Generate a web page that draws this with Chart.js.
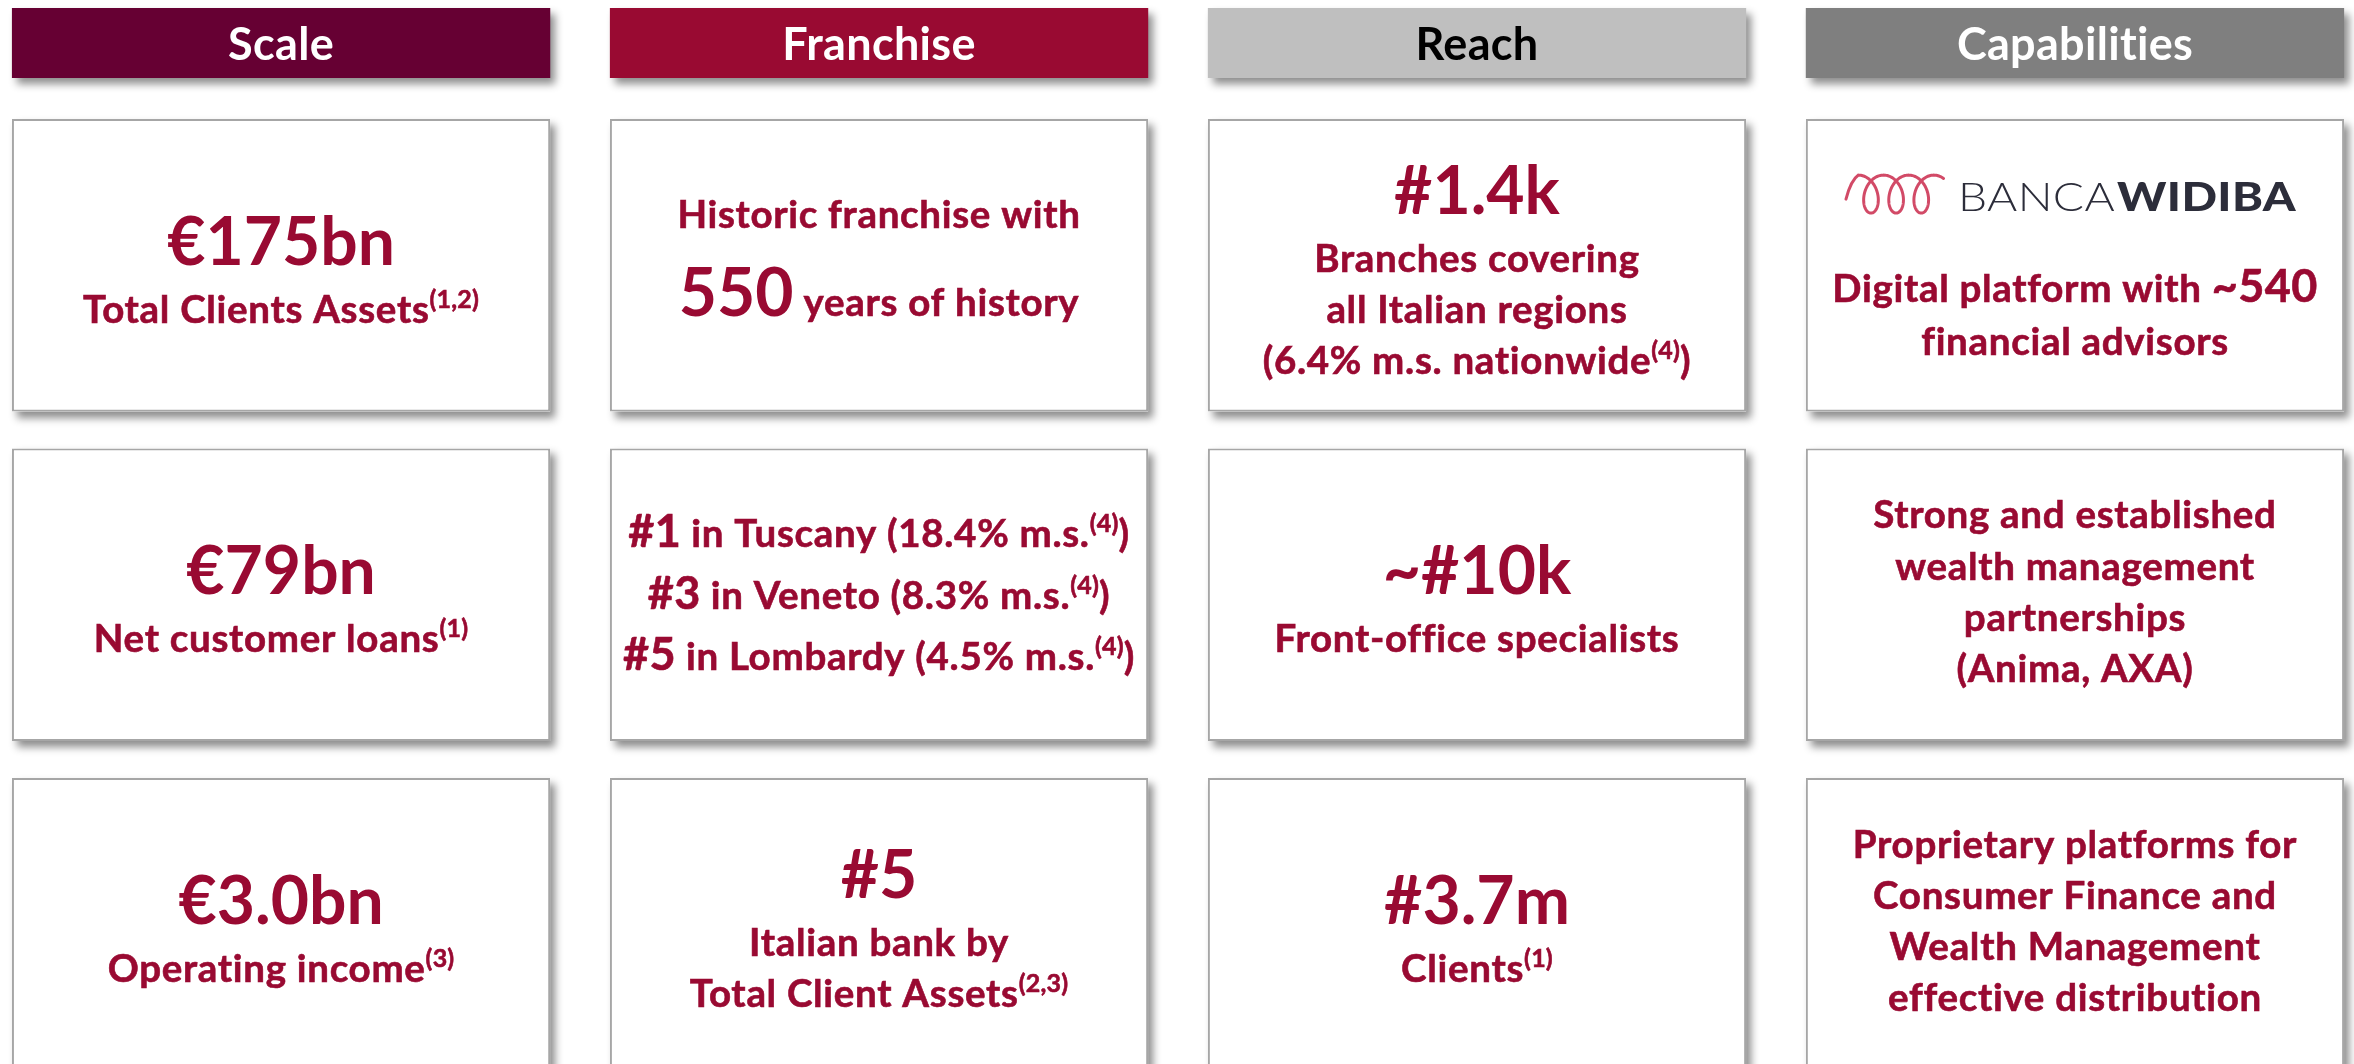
<!DOCTYPE html>
<html>
<head>
<meta charset="utf-8">
<title>Scale, Franchise, Reach, Capabilities</title>
<script src="https://cdn.jsdelivr.net/npm/chart.js@4.4.1/dist/chart.umd.min.js"></script>
<style>
  html, body { margin: 0; padding: 0; background: #ffffff; }
  #wrap { position: relative; width: 2354px; height: 1064px; }
</style>
</head>
<body>
<div id="wrap"><canvas id="pillars"></canvas></div>
<script>
// Column headers
const columns = ['Scale', 'Franchise', 'Reach', 'Capabilities'];
const headerFill = ['#660033', '#990a32', '#bfbfbf', '#7f7f7f'];
const headerInk = ['#ffffff', '#ffffff', '#000000', '#ffffff'];
const rows = [1, 2, 3];

// Box contents: one entry per row, each line is a list of [text, style] runs
const scaleTexts = [
    [[['€175bn', 'big']], [['Total Clients Assets', 'txt'], ['(1,2)', 'sup']]],
    [[['€79bn', 'big']], [['Net customer loans', 'txt'], ['(1)', 'sup']]],
    [[['€3.0bn', 'big']], [['Operating income', 'txt'], ['(3)', 'sup']]]
];
const franchiseTexts = [
    [[['Historic franchise with', 'txt']], [['550', 'big'], [' years of history', 'txt']]],
    [[['#1', 'mid'], [' in Tuscany (18.4% m.s.', 'txt'], ['(4)', 'sup'], [')', 'txt']],
     [['#3', 'mid'], [' in Veneto (8.3% m.s.', 'txt'], ['(4)', 'sup'], [')', 'txt']],
     [['#5', 'mid'], [' in Lombardy (4.5% m.s.', 'txt'], ['(4)', 'sup'], [')', 'txt']]],
    [[['#5', 'big']], [['Italian bank by', 'txt']], [['Total Client Assets', 'txt'], ['(2,3)', 'sup']]]
];
const reachTexts = [
    [[['#1.4k', 'big']], [['Branches covering', 'txt']], [['all Italian regions', 'txt']],
     [['(6.4% m.s. nationwide', 'txt'], ['(4)', 'sup'], [')', 'txt']]],
    [[['~#10k', 'big']], [['Front-office specialists', 'txt']]],
    [[['#3.7m', 'big']], [['Clients', 'txt'], ['(1)', 'sup']]]
];
const capabilityTexts = [
    [[['BANCA|WIDIBA', 'logo']], [['Digital platform with ', 'txt'], ['~540', 'mid']], [['financial advisors', 'txt']]],
    [[['Strong and established', 'txt']], [['wealth management', 'txt']], [['partnerships', 'txt']], [['(Anima, AXA)', 'txt']]],
    [[['Proprietary platforms for', 'txt']], [['Consumer Finance and', 'txt']], [['Wealth Management', 'txt']], [['effective distribution', 'txt']]]
];
const cellTexts = [scaleTexts, franchiseTexts, reachTexts, capabilityTexts];

// layout (row units on the y scale)
const HEAD_SPAN = [0.219, 0.432];
const BOX_HALF = 0.444;
const INK = '#990a32';
const SIZE = { big: 74, mid: 48, txt: 40, sup: 40 };      // line metrics basis
const LATO = { big: 66, mid: 45, txt: 38.5, sup: 25 };    // drawn font size
const SPACING = { big: 0, mid: 0.4, txt: 0.7, sup: 0.2 };

function setFont(ctx, style) {
    ctx.font = `bold ${LATO[style]}px Lato, "Open Sans", sans-serif`;
    if ('letterSpacing' in ctx) ctx.letterSpacing = SPACING[style] + 'px';
}

function lineMetrics(line) {
    if (line[0][1] === 'logo') return { a: 58, d: 40 };
    const s = Math.max(...line.filter(r => r[1] !== 'sup').map(r => SIZE[r[1]]));
    return { a: 1.07 * s, d: 0.206 * s };
}

function drawRuns(ctx, line, cx, base) {
    let total = 0;
    const widths = line.map(([t, st]) => {
        setFont(ctx, st);
        const w = ctx.measureText(t).width;
        total += w;
        return w;
    });
    let x = cx - total / 2;
    ctx.strokeStyle = INK;
    ctx.lineWidth = 0.6;
    line.forEach(([t, st], k) => {
        setFont(ctx, st);
        const yy = st === 'sup' ? base - 15 : base;
        ctx.fillText(t, x, yy);
        if (st !== 'big') ctx.strokeText(t, x, yy);
        x += widths[k];
    });
    if ('letterSpacing' in ctx) ctx.letterSpacing = '0px';
}

function drawLogo(ctx, line, cx, base) {
    const [light, heavy] = line[0][0].split('|');
    const left = cx - 229;
    // swirl
    const x0 = left + 25, yc = base - 17, r = 4.0, a = 13, b = 19;
    ctx.save();
    ctx.strokeStyle = '#d24a67';
    ctx.lineWidth = 3;
    ctx.lineCap = 'round';
    ctx.beginPath();
    ctx.moveTo(x0 - 25, yc + 5);
    ctx.quadraticCurveTo(x0 - 20, yc - 14, x0 - Math.PI * r, yc - b);
    for (let t = -Math.PI; t <= 5.2 * Math.PI; t += 0.05) {
        ctx.lineTo(x0 + r * t - a * Math.sin(t), yc - b * Math.cos(t + Math.PI));
    }
    ctx.stroke();
    ctx.restore();
    // word mark
    ctx.save();
    ctx.fillStyle = '#2c2d3a';
    ctx.textAlign = 'left';
    ctx.font = '300 39px Lato, "Open Sans", sans-serif';
    let w = ctx.measureText(light).width;
    ctx.save();
    ctx.translate(left + 112, base);
    ctx.scale(157 / w, 1);
    ctx.fillText(light, 0, 0);
    ctx.restore();
    ctx.font = '900 39px Lato, "Open Sans", sans-serif';
    w = ctx.measureText(heavy).width;
    ctx.translate(left + 271, base);
    ctx.scale(179 / w, 1);
    ctx.fillText(heavy, 0, 0);
    ctx.restore();
}

// soft drop shadow for the boxes, cast by a copy drawn underneath
const shadowPlugin = {
    id: 'boxShadow',
    beforeDatasetDraw(chart, args) {
        if (!chart.data.datasets[args.index].shadow) return;
        const ctx = chart.ctx;
        ctx.save();
        ctx.shadowColor = 'rgba(0,0,0,0.45)';
        ctx.shadowBlur = 8;
        ctx.shadowOffsetX = 5;
        ctx.shadowOffsetY = 6;
    },
    afterDatasetDraw(chart, args) {
        if (chart.data.datasets[args.index].shadow) chart.ctx.restore();
    }
};

const textPlugin = {
    id: 'boxText',
    afterDatasetsDraw(chart) {
        const { ctx, scales: { x, y } } = chart;
        ctx.save();
        ctx.textAlign = 'left';
        ctx.textBaseline = 'alphabetic';
        columns.forEach((name, i) => {
            const cx = x.getPixelForValue(i);
            // header label
            const hy = y.getPixelForValue((HEAD_SPAN[0] + HEAD_SPAN[1]) / 2);
            ctx.fillStyle = headerInk[i];
            ctx.font = 'bold 45px Lato, "Open Sans", sans-serif';
            if ('letterSpacing' in ctx) ctx.letterSpacing = '0.3px';
            const hw = ctx.measureText(name).width;
            ctx.fillText(name, cx - hw / 2, hy + 16.5);
            // box lines
            rows.forEach((r, j) => {
                const lines = cellTexts[i][j];
                const m = lines.map(lineMetrics);
                const bases = [0];
                for (let k = 1; k < lines.length; k++) bases.push(bases[k - 1] + m[k - 1].d + m[k].a);
                const top = -m[0].a, bottom = bases[bases.length - 1] + m[m.length - 1].d;
                const shift = y.getPixelForValue(r) - 7 - (top + bottom) / 2;
                ctx.fillStyle = INK;
                lines.forEach((line, k) => {
                    if (line[0][1] === 'logo') drawLogo(ctx, line, cx, bases[k] + shift);
                    else drawRuns(ctx, line, cx, bases[k] + shift);
                });
            });
        });
        ctx.restore();
    }
};

const datasets = [];
datasets.push({
    label: 'header shadow', shadow: true, order: 2,
    data: columns.map((c, i) => ({ x: i, y: HEAD_SPAN })),
    backgroundColor: headerFill, borderWidth: 0
});
datasets.push({
    label: 'header', order: 1,
    data: columns.map((c, i) => ({ x: i, y: HEAD_SPAN })),
    backgroundColor: headerFill, borderWidth: 0
});
rows.forEach(r => {
    datasets.push({
        label: 'row ' + r + ' shadow', shadow: true, order: 2,
        data: columns.map((c, i) => ({ x: i, y: [r - BOX_HALF, r + BOX_HALF] })),
        backgroundColor: '#ffffff', borderWidth: 0
    });
    datasets.push({
        label: 'row ' + r, order: 1,
        data: columns.map((c, i) => ({ x: i, y: [r - BOX_HALF, r + BOX_HALF] })),
        backgroundColor: '#ffffff', borderColor: '#a6a6a6', borderWidth: 2
    });
});

new Chart(document.getElementById('pillars'), {
    type: 'bar',
    data: { datasets },
    options: {
        responsive: true,
        maintainAspectRatio: false,
        animation: false,
        events: [],
        layout: { padding: 0 },
        plugins: { legend: { display: false }, tooltip: { enabled: false } },
        datasets: { bar: { grouped: false, categoryPercentage: 0.9, barPercentage: 1, borderSkipped: false } },
        scales: {
            x: {
                type: 'linear', display: false, offset: false, min: -0.47, max: 3.4666,
                afterBuildTicks: s => { s.ticks = columns.map((c, i) => ({ value: i })); }
            },
            y: { type: 'linear', display: false, reverse: true, min: 0.195, max: 3.424 }
        }
    },
    plugins: [shadowPlugin, textPlugin]
});
</script>
</body>
</html>
